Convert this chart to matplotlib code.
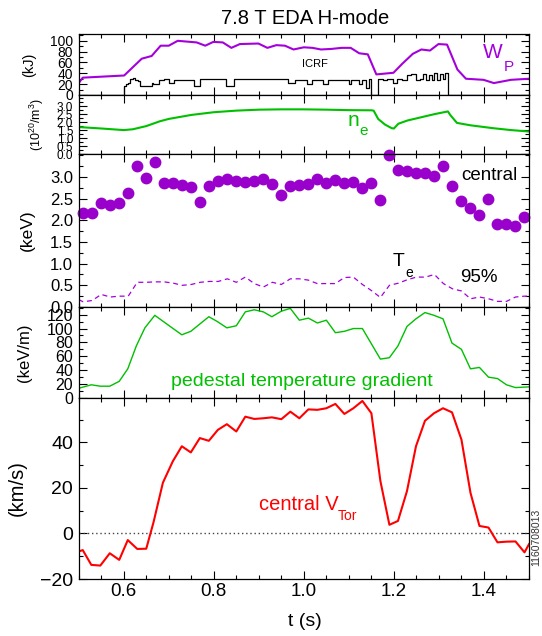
import numpy as np
import matplotlib
matplotlib.use("Agg")
import matplotlib.pyplot as plt
from matplotlib.ticker import MultipleLocator, FixedLocator

plt.rcParams['font.family'] = ['Liberation Sans', 'DejaVu Sans']
plt.rcParams['mathtext.fontset'] = 'custom'
plt.rcParams['mathtext.rm'] = 'Liberation Sans'
plt.rcParams['mathtext.it'] = 'Liberation Sans:italic'

# -------------------------------
# stored energy W_P (kJ)
# -------------------------------
wp_t = [0.50, 0.509, 0.601, 0.64, 0.662, 0.682, 0.70, 0.72, 0.762, 0.781, 0.799, 0.82,
        0.839, 0.858, 0.899, 0.919, 0.939, 0.958, 0.977, 1.00, 1.019, 1.038, 1.061,
        1.084, 1.104, 1.123, 1.142, 1.161, 1.199, 1.219, 1.242, 1.261, 1.28, 1.299,
        1.318, 1.341, 1.36, 1.399, 1.422, 1.46, 1.50]
wp_v = [22, 32, 36, 67, 72, 91, 91, 100, 97, 91, 98, 97,
        87, 94, 95, 87, 92, 91, 84, 88, 87, 84, 85,
        87, 87, 77, 75, 38, 41, 58, 76, 84, 82, 94,
        93, 47, 30, 28, 22, 28, 30]

# ICRF power trace (arb. scale, step values)
icrf_t = [0.50, 0.600, 0.604, 0.609, 0.613, 0.620, 0.626, 0.632, 0.636, 0.663, 0.666,
          0.678, 0.690, 0.701, 0.712, 0.725, 0.739, 0.755, 0.770, 0.790, 0.810, 0.827,
          0.845, 0.870, 0.900, 0.930, 0.965, 0.981, 1.008, 1.019, 1.042, 1.054, 1.075,
          1.100, 1.104, 1.123, 1.129, 1.138, 1.144, 1.150, 1.165, 1.175, 1.185, 1.199,
          1.207, 1.218, 1.230, 1.238, 1.248, 1.257, 1.265, 1.272, 1.278, 1.284, 1.290,
          1.296, 1.302, 1.308, 1.314, 1.320, 1.50]
icrf_v = [0, 16, 20, 22, 29, 31, 28, 26, 16, 23, 21,
          28, 29, 22, 27, 28, 27, 16, 29, 30, 29, 16,
          29, 30, 29, 30, 22, 28, 21, 27, 20, 27, 28,
          21, 27, 20, 27, 13, 30, 0, 29, 27, 29, 22,
          30, 28, 36, 38, 28, 29, 39, 27, 37, 28, 40,
          27, 38, 30, 40, 0, 0]

# -------------------------------
# density n_e (10^20 m^-3)
# -------------------------------
ne_t = [0.50, 0.55, 0.60, 0.62, 0.65, 0.68, 0.70, 0.75, 0.80, 0.85, 0.90, 0.95, 1.00,
        1.05, 1.10, 1.15, 1.155, 1.165, 1.18, 1.195, 1.20, 1.21, 1.23, 1.26, 1.29,
        1.32, 1.325, 1.34, 1.37, 1.42, 1.46, 1.50]
ne_v = [1.69, 1.60, 1.50, 1.55, 1.75, 2.05, 2.20, 2.45, 2.62, 2.72, 2.78, 2.80, 2.80,
        2.78, 2.75, 2.74, 2.72, 2.20, 1.85, 1.62, 1.60, 1.90, 2.10, 2.30, 2.50,
        2.67, 2.45, 1.95, 1.80, 1.62, 1.50, 1.41]

# -------------------------------
# electron temperature (keV)
# -------------------------------
te_t = [0.51, 0.53, 0.55, 0.57, 0.59, 0.61, 0.63, 0.65, 0.67, 0.69, 0.71, 0.73, 0.75,
        0.77, 0.79, 0.81, 0.83, 0.85, 0.87, 0.89, 0.91, 0.93, 0.95, 0.97, 0.99, 1.01,
        1.03, 1.05, 1.07, 1.09, 1.11, 1.13, 1.15, 1.17, 1.19, 1.21, 1.23, 1.25, 1.27,
        1.29, 1.31, 1.33, 1.35, 1.37, 1.39, 1.41, 1.43, 1.45, 1.47, 1.49]
te_central = [2.18, 2.18, 2.41, 2.36, 2.41, 2.62, 3.25, 2.98, 3.35, 2.87, 2.87, 2.81, 2.77,
              2.42, 2.79, 2.90, 2.96, 2.90, 2.88, 2.91, 2.96, 2.83, 2.58, 2.79, 2.82, 2.83,
              2.95, 2.86, 2.94, 2.86, 2.88, 2.75, 2.85, 2.48, 3.50, 3.17, 3.14, 3.09, 3.10,
              3.02, 3.25, 2.79, 2.44, 2.29, 2.13, 2.50, 1.92, 1.92, 1.87, 2.08]
te95_t = [0.50] + te_t + [1.50]
te95_v = [0.17, 0.12, 0.15, 0.29, 0.23, 0.25, 0.25, 0.57, 0.57, 0.58, 0.58, 0.55, 0.50,
          0.52, 0.57, 0.59, 0.59, 0.65, 0.57, 0.69, 0.54, 0.46, 0.57, 0.52, 0.65, 0.65,
          0.62, 0.54, 0.54, 0.54, 0.68, 0.69, 0.52, 0.38, 0.22, 0.50, 0.55, 0.63, 0.69,
          0.69, 0.75, 0.54, 0.42, 0.37, 0.19, 0.23, 0.19, 0.13, 0.13, 0.23, 0.25, 0.25]

# -------------------------------
# pedestal temperature gradient (keV/m)
# -------------------------------
grad_t = [0.50, 0.528, 0.548, 0.569, 0.59, 0.609, 0.628, 0.647, 0.669, 0.701, 0.729,
          0.749, 0.789, 0.808, 0.829, 0.85, 0.87, 0.89, 0.91, 0.929, 0.95, 0.97, 0.99,
          1.01, 1.03, 1.05, 1.07, 1.09, 1.11, 1.13, 1.15, 1.17, 1.19, 1.209, 1.229,
          1.249, 1.269, 1.289, 1.309, 1.329, 1.35, 1.37, 1.39, 1.41, 1.43, 1.45, 1.47, 1.50]
grad_v = [14, 19, 17, 17, 24, 42, 75, 101, 119, 104, 91,
          96, 117, 110, 101, 104, 124, 127, 124, 117, 125, 129, 112,
          115, 108, 112, 94, 96, 100, 100, 78, 56, 58, 75, 103,
          114, 123, 119, 114, 79, 70, 42, 44, 30, 28, 19, 15, 16]

# -------------------------------
# central toroidal rotation (km/s)
# -------------------------------
vt_t = [0.50, 0.509, 0.528, 0.548, 0.569, 0.59, 0.609, 0.63, 0.65, 0.666, 0.687, 0.709,
        0.729, 0.749, 0.769, 0.789, 0.809, 0.829, 0.85, 0.87, 0.89, 0.91, 0.929, 0.95,
        0.97, 0.99, 1.01, 1.03, 1.05, 1.07, 1.09, 1.11, 1.13, 1.15, 1.17, 1.19, 1.209,
        1.229, 1.249, 1.269, 1.289, 1.309, 1.329, 1.35, 1.37, 1.39, 1.41, 1.43, 1.45,
        1.47, 1.49, 1.50]
vt_v = [-7.9, -7.3, -13.8, -14.1, -8.7, -11.6, -2.9, -6.8, -6.7, 4.8, 22.3, 31.7,
        38.3, 35.6, 41.9, 40.7, 45.5, 48.0, 44.8, 51.3, 50.3, 50.6, 51.0, 50.2,
        53.5, 50.6, 54.5, 54.3, 55.0, 56.9, 52.5, 55.0, 58.2, 52.8, 23.0, 3.8, 5.5,
        18.6, 38.3, 49.5, 52.8, 55.0, 53.2, 41.2, 17.9, 3.3, 2.6, -3.9, -3.6,
        -3.5, -8.3, -4.7]

purple = '#a400dc'
dot_purple = '#9a00cc'
green = '#00c000'
red = '#ff0000'

fig = plt.figure(figsize=(5.42, 6.36), dpi=100)
FW, FH = 542.0, 636.0
X0, X1 = 78.7, 529.0


def panel(top, bot):
    return fig.add_axes([X0 / FW, 1 - bot / FH, (X1 - X0) / FW, (bot - top) / FH])


def px(x, y):
    return x / FW, 1 - y / FH


def style(ax, ysize, ymin, bottom_labels=False):
    ax.set_xlim(0.5, 1.5)
    ax.xaxis.set_major_locator(MultipleLocator(0.2))
    ax.xaxis.set_minor_locator(MultipleLocator(0.05))
    ax.yaxis.set_minor_locator(MultipleLocator(ymin))
    ax.tick_params(which='both', direction='in', top=True, right=True, width=0.8)
    ax.tick_params(which='major', length=6)
    ax.tick_params(which='minor', length=3)
    ax.tick_params(axis='y', labelsize=ysize, pad=4)
    ax.tick_params(axis='x', labelbottom=bottom_labels, labelsize=13.5, pad=3)
    for s in ax.spines.values():
        s.set_linewidth(0.9)


def ylab(ax, text, xpix, size):
    ax.set_ylabel(text, fontsize=size)
    ax.yaxis.set_label_coords((xpix - X0) / (X1 - X0), 0.5)


# panel 1: W_P and ICRF
ax1 = panel(34.3, 95)
ax1.plot(wp_t, wp_v, color=purple, lw=1.5)
ax1.step(icrf_t, icrf_v, where='post', color='black', lw=0.9)
ax1.set_ylim(0, 112)
ax1.yaxis.set_major_locator(FixedLocator([0, 20, 40, 60, 80, 100]))
style(ax1, 10, 10)
ylab(ax1, '(kJ)', 36, 10.5)

# panel 2: n_e
ax2 = panel(95, 154)
ax2.plot(ne_t, ne_v, color=green, lw=1.5)
ax2.set_ylim(0, 3.7)
ax2.yaxis.set_major_locator(FixedLocator([0.0, 0.5, 1.0, 1.5, 2.0, 2.5, 3.0]))
ax2.yaxis.set_major_formatter(matplotlib.ticker.FormatStrFormatter('%.1f'))
style(ax2, 8.5, 0.25)
ylab(ax2, r'(10$^{20}$/m$^{3}$)', 46, 9)

# panel 3: Te central and 95%
ax3 = panel(154, 307)
ax3.plot(te_t, te_central, 'o', color=dot_purple, markersize=7.5, clip_on=False)
ax3.plot(te95_t, te95_v, color=purple, lw=0.9, linestyle=(0, (4, 3)))
ax3.set_ylim(0, 3.53)
ax3.yaxis.set_major_locator(FixedLocator([0.0, 0.5, 1.0, 1.5, 2.0, 2.5, 3.0]))
ax3.yaxis.set_major_formatter(matplotlib.ticker.FormatStrFormatter('%.1f'))
style(ax3, 12, 0.25)
ylab(ax3, '(keV)', 35, 12.5)

# panel 4: pedestal gradient
ax4 = panel(307, 398)
ax4.plot(grad_t, grad_v, color=green, lw=1.0)
ax4.set_ylim(0, 131)
ax4.yaxis.set_major_locator(FixedLocator([0, 20, 40, 60, 80, 100, 120]))
style(ax4, 11.5, 10)
ylab(ax4, '(keV/m)', 32, 12)

# panel 5: central V_tor
ax5 = panel(398, 579)
ax5.axhline(0, color='#444444', lw=1.0, linestyle=(0, (1, 2)))
ax5.plot(vt_t, vt_v, color=red, lw=1.5)
ax5.set_ylim(-20, 59.5)
ax5.yaxis.set_major_locator(FixedLocator([-20, 0, 20, 40]))
style(ax5, 14, 10, bottom_labels=True)
ax5.xaxis.set_major_formatter(matplotlib.ticker.FormatStrFormatter('%.1f'))
ylab(ax5, '(km/s)', 27, 14.5)

# annotations
fig.text(*px(305, 18), '7.8 T EDA H-mode', fontsize=14.5, ha='center', va='center')
fig.text(*px(305, 621), 't (s)', fontsize=14, ha='center', va='center')

fig.text(*px(483, 53), 'W', fontsize=15, color=purple, ha='left', va='center')
fig.text(*px(504, 67), 'P', fontsize=11, color=purple, ha='left', va='center')
fig.text(*px(315, 64), 'ICRF', fontsize=8, ha='center', va='center')

fig.text(*px(348, 120), 'n', fontsize=15, color=green, ha='left', va='center')
fig.text(*px(359, 131), 'e', fontsize=11, color=green, ha='left', va='center')

fig.text(*px(461, 175), 'central', fontsize=13.5, ha='left', va='center')
fig.text(*px(393, 261), 'T', fontsize=14, ha='left', va='center')
fig.text(*px(405, 273), 'e', fontsize=10, ha='left', va='center')
fig.text(*px(460, 278), '95%', fontsize=13.5, ha='left', va='center')

fig.text(*px(302, 382), 'pedestal temperature gradient', fontsize=14, color=green,
         ha='center', va='center')

fig.text(*px(259, 504), 'central V', fontsize=14.5, color=red, ha='left', va='center')
fig.text(*px(338, 516), 'Tor', fontsize=10, color=red, ha='left', va='center')

fig.text(*px(536.5, 537), '1160708013', fontsize=7.5, rotation=90, ha='center', va='center',
         color='#333333')

fig.savefig('out.png', dpi=100)
